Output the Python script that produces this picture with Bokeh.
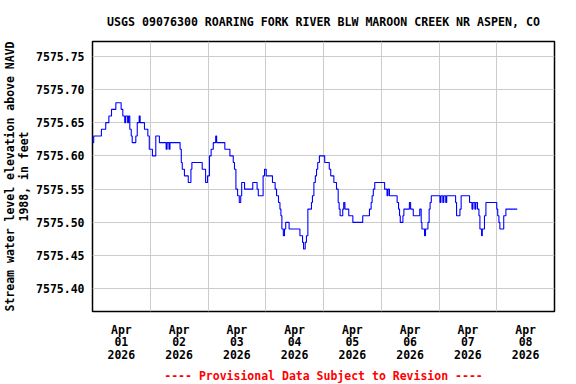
from bokeh.plotting import figure
from bokeh.models import FixedTicker, PrintfTickFormatter, Title, Range1d, ColumnDataSource
from bokeh.embed import file_html
from bokeh.resources import INLINE

TITLE = "USGS 09076300 ROARING FORK RIVER BLW MAROON CREEK NR ASPEN, CO"
YLABEL = "Stream water level elevation above NAVD\n1988, in feet"
FOOTER = "---- Provisional Data Subject to Revision ----"

# hours since 2026-04-01 00:00 at which the reading changes
hours = [0.0, 0.5, 3.7, 5.5, 6.8, 7.9, 9.7, 11.9, 12.6, 13.4, 13.8, 14.6, 15.0,
         15.5, 16.1, 16.5, 18.0, 18.6, 19.4, 19.8, 21.6, 23.0, 23.6, 24.9, 26.3, 27.8,
         30.6, 31.0, 31.8, 32.2, 36.4, 36.9, 37.3, 38.2, 39.8, 40.9, 41.3, 45.6,
         47.0, 47.8, 48.6, 49.3, 50.2, 51.2, 51.6, 55.0, 57.1, 58.5, 59.0, 59.6, 60.3,
         61.0, 61.6, 62.0, 63.2, 66.6, 68.4, 68.9, 70.9, 71.5, 72.2, 74.8, 75.9, 76.5,
         77.3, 77.9, 78.3, 78.7, 79.3, 79.8, 80.3, 81.7, 86.2, 87.3, 87.7, 88.4, 88.9,
         89.5, 91.0, 91.4, 92.0, 92.6, 93.1, 93.6, 94.3, 96.5, 98.4, 99.0, 100.3, 101.4,
         102.1, 102.5, 102.9, 104.0, 104.4, 104.9, 106.5, 108.2, 112.3, 115.1, 115.8,
         116.2, 116.7, 117.3, 121.4, 122.4, 122.8, 123.4, 126.6, 127.2, 127.6, 127.9,
         129.0, 129.4, 131.7, 132.2, 133.3, 136.0, 136.6, 136.9, 138.0, 138.4, 139.4,
         139.9, 140.3, 140.8, 144.4, 144.8, 145.6, 146.0, 146.8, 147.2, 150.9, 151.3,
         152.7, 153.2, 156.7, 157.7, 158.1, 158.9, 159.3, 160.0, 160.6, 161.0, 161.7,
         162.0, 162.9, 163.5, 168.0, 168.4, 168.9, 169.3, 170.9, 171.8, 176.5]
level = [7575.62, 7575.63, 7575.64, 7575.65, 7575.66, 7575.67, 7575.68, 7575.67, 7575.66,
         7575.65, 7575.66, 7575.65, 7575.66, 7575.64, 7575.63, 7575.62, 7575.63,
         7575.65, 7575.66, 7575.65, 7575.64, 7575.63, 7575.61, 7575.60, 7575.63, 7575.62,
         7575.61, 7575.62, 7575.61, 7575.62, 7575.61, 7575.59, 7575.58, 7575.57,
         7575.56, 7575.58, 7575.59, 7575.58, 7575.56, 7575.57, 7575.60, 7575.61, 7575.62,
         7575.63, 7575.62, 7575.61, 7575.60, 7575.59, 7575.58, 7575.55, 7575.54, 7575.53,
         7575.54, 7575.56, 7575.55, 7575.56, 7575.55, 7575.54, 7575.57, 7575.58, 7575.57,
         7575.56, 7575.55, 7575.54, 7575.53, 7575.52, 7575.51, 7575.49, 7575.48, 7575.49,
         7575.50, 7575.49, 7575.48, 7575.47, 7575.46, 7575.47, 7575.48, 7575.52, 7575.53,
         7575.54, 7575.56, 7575.57, 7575.58, 7575.59, 7575.60, 7575.59, 7575.58, 7575.57,
         7575.56, 7575.55, 7575.53, 7575.52, 7575.51, 7575.52, 7575.53, 7575.52, 7575.51,
         7575.50, 7575.51, 7575.52, 7575.53, 7575.54, 7575.55, 7575.56, 7575.55, 7575.54,
         7575.55, 7575.54, 7575.53, 7575.52, 7575.51, 7575.50, 7575.51, 7575.52, 7575.53,
         7575.52, 7575.51, 7575.52, 7575.50, 7575.49, 7575.48, 7575.49, 7575.50, 7575.52,
         7575.53, 7575.54, 7575.53, 7575.54, 7575.53, 7575.54, 7575.53, 7575.54, 7575.53,
         7575.51, 7575.52, 7575.54, 7575.53, 7575.52, 7575.53, 7575.52, 7575.53, 7575.52,
         7575.51, 7575.49, 7575.48, 7575.49, 7575.51, 7575.53, 7575.52, 7575.51, 7575.50,
         7575.49, 7575.51, 7575.52, 7575.52]

day_label_hours = [12, 36, 60, 84, 108, 132, 156, 180]
day_labels = ["Apr\n01\n2026", "Apr\n02\n2026", "Apr\n03\n2026", "Apr\n04\n2026",
              "Apr\n05\n2026", "Apr\n06\n2026", "Apr\n07\n2026", "Apr\n08\n2026"]
midnight_hours = [24, 48, 72, 96, 120, 144, 168]
y_ticks = [7575.40, 7575.45, 7575.50, 7575.55, 7575.60, 7575.65, 7575.70, 7575.75]

FONT = "DejaVu Sans Mono"
FS = "11.5px"

p = figure(width=576, height=384, output_backend="svg", toolbar_location=None,
           x_range=Range1d(0, 192), y_range=Range1d(7575.366, 7575.772),
           min_border_left=92, min_border_right=22, min_border_top=40, min_border_bottom=68)

p.title.text = TITLE
p.title.align = "center"
p.title.text_font = FONT
p.title.text_font_size = "11.6px"
p.title.text_font_style = "bold"
p.title.text_color = "black"
p.title.standoff = 25

src = ColumnDataSource(data=dict(h=hours, v=level))
p.step("h", "v", source=src, mode="after", line_color="#0000ff", line_width=1.1)

p.outline_line_color = "black"
p.outline_line_width = 1.5

p.xaxis.ticker = FixedTicker(ticks=day_label_hours)
p.xaxis.major_label_overrides = {h: lab for h, lab in zip(day_label_hours, day_labels)}
p.xgrid.ticker = FixedTicker(ticks=midnight_hours)
p.yaxis.ticker = FixedTicker(ticks=y_ticks)
p.yaxis.formatter = PrintfTickFormatter(format="%.2f")
p.ygrid.ticker = FixedTicker(ticks=y_ticks)

for ax in (p.xaxis[0], p.yaxis[0]):
    ax.axis_line_color = None
    ax.major_tick_line_color = None
    ax.minor_tick_line_color = None
    ax.major_tick_out = 0
    ax.major_tick_in = 0
    ax.major_label_text_font = FONT
    ax.major_label_text_font_size = FS
    ax.major_label_text_font_style = "bold"
    ax.major_label_text_color = "black"

p.xaxis.major_label_text_line_height = 0.9
p.yaxis.major_label_text_line_height = 0.97
p.xaxis.major_label_standoff = 11
p.yaxis.major_label_standoff = 8
p.yaxis.axis_label = YLABEL
p.yaxis.axis_label_text_font = FONT
p.yaxis.axis_label_text_font_size = FS
p.yaxis.axis_label_text_font_style = "bold"
p.yaxis.axis_label_text_color = "black"
p.yaxis.axis_label_text_line_height = 0.97
p.yaxis.axis_label_standoff = 2

p.grid.grid_line_color = "#cccccc"
p.grid.grid_line_width = 1

p.add_layout(Title(text=FOOTER, align="center", text_color="#ff0000", text_font=FONT,
                   text_font_size=FS, text_font_style="bold", standoff=4), "below")

open("out.html", "w").write(file_html(p, INLINE))
